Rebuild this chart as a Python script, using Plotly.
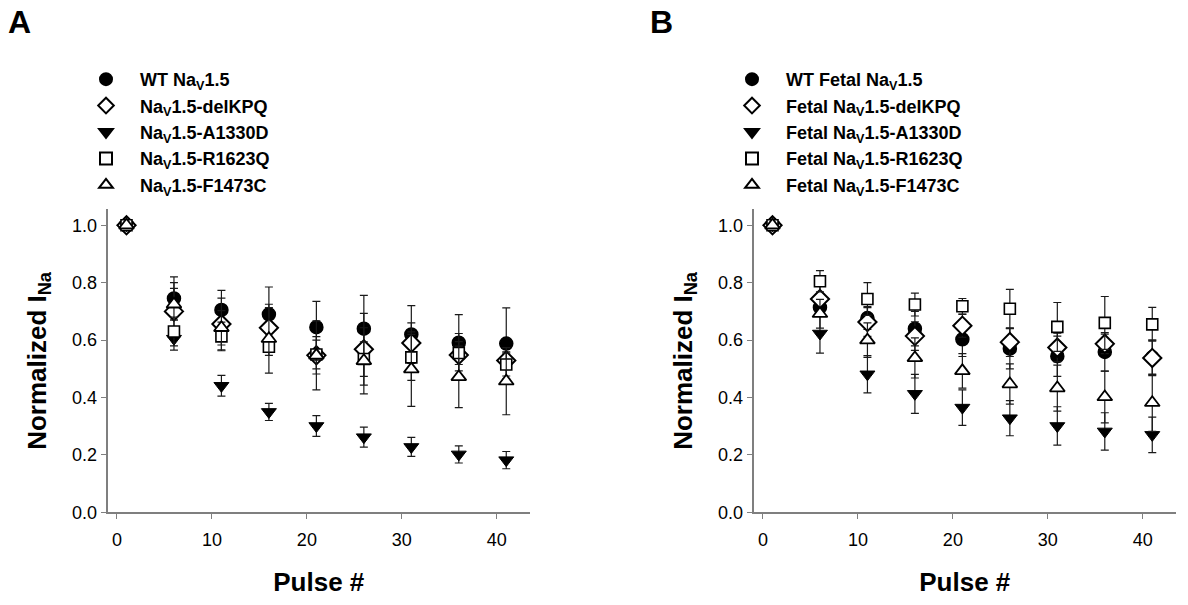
import plotly.graph_objects as go

W, H = 1188, 605

pulses = [1, 6, 11, 16, 21, 26, 31, 36, 41]

# Panel A (adult)
a_names = ["WT Na<sub>V</sub>1.5", "Na<sub>V</sub>1.5-delKPQ", "Na<sub>V</sub>1.5-A1330D",
           "Na<sub>V</sub>1.5-R1623Q", "Na<sub>V</sub>1.5-F1473C"]
a_wt      = [1.0, 0.745, 0.705, 0.690, 0.645, 0.640, 0.620, 0.591, 0.588]
a_wt_e    = [0.0, 0.075, 0.068, 0.095, 0.090, 0.116, 0.100, 0.098, 0.124]
a_del     = [1.0, 0.700, 0.656, 0.643, 0.547, 0.568, 0.590, 0.548, 0.529]
a_del_e   = [0.0, 0.100, 0.090, 0.070, 0.120, 0.125, 0.070, 0.075, 0.030]
a_a13     = [1.0, 0.605, 0.441, 0.350, 0.301, 0.262, 0.228, 0.202, 0.182]
a_a13_e   = [0.0, 0.040, 0.036, 0.030, 0.036, 0.035, 0.033, 0.030, 0.030]
a_r16     = [1.0, 0.630, 0.613, 0.577, 0.550, 0.534, 0.540, 0.555, 0.515]
a_r16_e   = [0.0, 0.050, 0.050, 0.030, 0.050, 0.060, 0.080, 0.040, 0.040]
a_f14     = [1.0, 0.725, 0.643, 0.605, 0.547, 0.528, 0.499, 0.472, 0.457]
a_f14_e   = [0.0, 0.055, 0.060, 0.120, 0.065, 0.115, 0.130, 0.107, 0.117]

# Panel B (fetal)
b_names = ["WT Fetal Na<sub>V</sub>1.5", "Fetal Na<sub>V</sub>1.5-delKPQ", "Fetal Na<sub>V</sub>1.5-A1330D",
           "Fetal Na<sub>V</sub>1.5-R1623Q", "Fetal Na<sub>V</sub>1.5-F1473C"]
b_wt      = [1.0, 0.714, 0.677, 0.640, 0.603, 0.570, 0.544, 0.559, 0.540]
b_wt_e    = [0.0, 0.030, 0.040, 0.060, 0.060, 0.070, 0.070, 0.067, 0.060]
b_del     = [1.0, 0.743, 0.663, 0.614, 0.650, 0.593, 0.574, 0.587, 0.538]
b_del_e   = [0.0, 0.050, 0.050, 0.050, 0.040, 0.050, 0.050, 0.034, 0.062]
b_a13     = [1.0, 0.623, 0.481, 0.413, 0.365, 0.328, 0.301, 0.282, 0.270]
b_a13_e   = [0.0, 0.068, 0.065, 0.068, 0.062, 0.061, 0.067, 0.065, 0.062]
b_r16     = [1.0, 0.805, 0.743, 0.724, 0.718, 0.709, 0.646, 0.660, 0.655]
b_r16_e   = [0.0, 0.037, 0.057, 0.040, 0.027, 0.068, 0.085, 0.092, 0.059]
b_f14     = [1.0, 0.692, 0.600, 0.538, 0.493, 0.447, 0.433, 0.402, 0.382]
b_f14_e   = [0.0, 0.050, 0.060, 0.070, 0.060, 0.070, 0.080, 0.090, 0.100]

x_ticks = [0, 10, 20, 30, 40]
y_ticks = [0.0, 0.2, 0.4, 0.6, 0.8, 1.0]

styles = [
    dict(symbol="circle", size=13, color="black", line=dict(color="black", width=1.5)),
    dict(symbol="diamond", size=14, color="white", line=dict(color="black", width=2)),
    dict(symbol="triangle-down", size=13, color="black", line=dict(color="black", width=1)),
    dict(symbol="square", size=11, color="white", line=dict(color="black", width=1.6)),
    dict(symbol="triangle-up", size=13, color="white", line=dict(color="black", width=1.8)),
]

fig = go.Figure()

def add_panel(names, ys, errs, xa, ya, legend, grp):
    for i, (nm, y, e) in enumerate(zip(names, ys, errs)):
        st = styles[i]
        fig.add_trace(go.Scatter(
            x=pulses, y=y, mode="markers", name=nm,
            marker=dict(symbol=st["symbol"], size=st["size"], color=st["color"], line=st["line"]),
            error_y=dict(type="data", array=e, visible=True, color="#1a1a1a", thickness=1.2, width=4),
            xaxis=xa, yaxis=ya, legend=legend, legendgroup=f"{grp}{i}",
        ))

add_panel(a_names, [a_wt, a_del, a_a13, a_r16, a_f14],
          [a_wt_e, a_del_e, a_a13_e, a_r16_e, a_f14_e], "x", "y", "legend", "a")
add_panel(b_names, [b_wt, b_del, b_a13, b_r16, b_f14],
          [b_wt_e, b_del_e, b_a13_e, b_r16_e, b_f14_e], "x2", "y2", "legend2", "b")

FONT = "Liberation Sans, Arial, sans-serif"

def px_x(p):
    return p / W

def px_y(p):
    return 1 - p / H

ydom = [px_y(521), px_y(213)]

def xax(dom):
    return dict(domain=dom, range=[-1, 43.5], tickvals=x_ticks, showline=True, linecolor="#7f7f7f",
                linewidth=1.5, ticks="outside", ticklen=5, tickcolor="#7f7f7f", tickwidth=1.2,
                ticklabelstandoff=5,
                showgrid=False, zeroline=False, tickfont=dict(family=FONT, size=18, color="black"),
                title=dict(text="Pulse #", font=dict(family=FONT, size=26, color="black", weight="bold"),
                           standoff=24))

def yax(anchor):
    return dict(domain=ydom, range=[0, 1.055], tickvals=y_ticks, tickformat=".1f", showline=True,
                linecolor="#7f7f7f", linewidth=1.5, ticks="outside", ticklen=5, tickcolor="#7f7f7f",
                tickwidth=1.2, showgrid=False, zeroline=False, anchor=anchor,
                tickfont=dict(family=FONT, size=18, color="black"),
                title=dict(text="Normalized I<sub>Na</sub>",
                           font=dict(family=FONT, size=26, color="black", weight="bold"), standoff=18))

legend_common = dict(font=dict(family=FONT, size=18, color="black", weight="bold"),
                     bgcolor="rgba(0,0,0,0)", tracegroupgap=0, itemclick=False, itemwidth=58,
                     itemsizing="constant",
                     itemdoubleclick=False, xanchor="left", yanchor="top", traceorder="grouped")

fig.update_layout(
    width=W, height=H, margin=dict(l=0, r=0, t=0, b=0),
    paper_bgcolor="white", plot_bgcolor="white", showlegend=True,
    xaxis=dict(**xax([px_x(107.5), px_x(530)]), anchor="y"),
    yaxis=yax("x"),
    xaxis2=dict(**xax([px_x(753.5), px_x(1176)]), anchor="y2"),
    yaxis2=yax("x2"),
    legend=dict(x=px_x(72), y=px_y(62), **legend_common),
    legend2=dict(x=px_x(718), y=px_y(62), **legend_common),
    annotations=[
        dict(text="A", x=px_x(6), y=px_y(22), xref="paper", yref="paper", showarrow=False,
             xanchor="left", yanchor="middle", font=dict(family=FONT, size=32, color="black", weight="bold")),
        dict(text="B", x=px_x(648), y=px_y(22), xref="paper", yref="paper", showarrow=False,
             xanchor="left", yanchor="middle", font=dict(family=FONT, size=32, color="black", weight="bold")),
    ],
)

fig.write_html("out.html")
